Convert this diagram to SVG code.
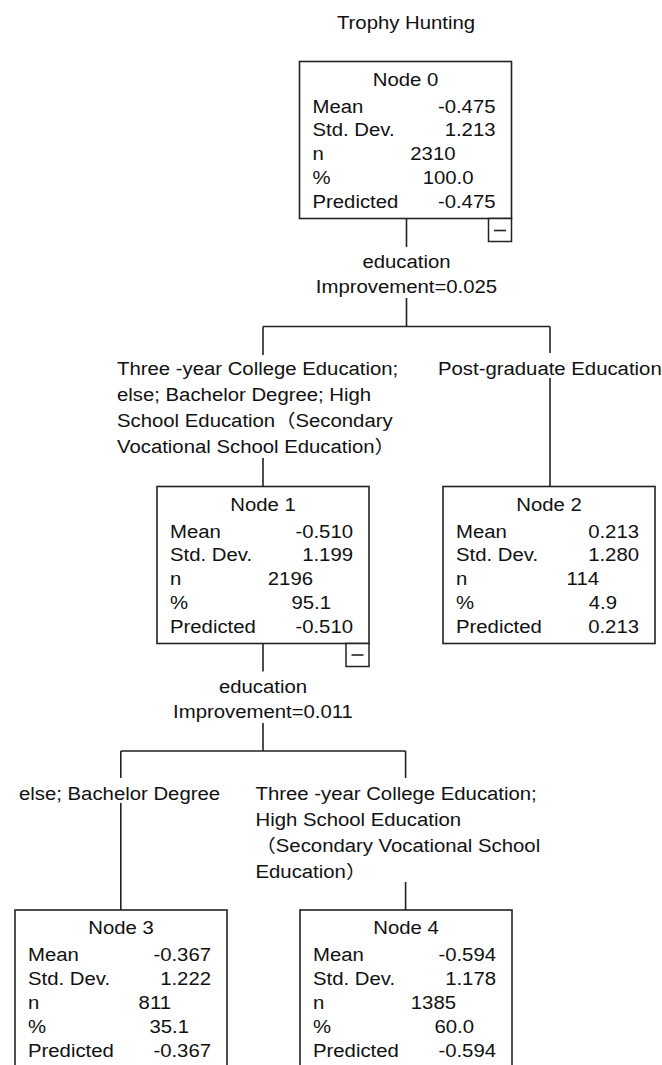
<svg xmlns="http://www.w3.org/2000/svg" width="662" height="1065" viewBox="0 0 662 1065">
<style>
text{font-family:"Liberation Sans","Noto Sans CJK SC",Arial,sans-serif;font-size:18px;fill:#111}
.m{text-anchor:middle}
.e{text-anchor:end}
.box{fill:#fff;stroke:#222;stroke-width:1.6}
.tog{fill:#fff;stroke:#222;stroke-width:1.5}
.ln{stroke:#222;stroke-width:1.6;fill:none}
</style>
<rect width="662" height="1065" fill="#fff"/>
<text id="title" class="m" transform="matrix(1.13 0 0 1 406 29)">Trophy Hunting</text>

<g id="connectors">
<path class="ln" d="M406.5 219V247M406.5 298V326.5M263 326.5H550M263 326.5V355M550 326.5V353M550 378V486.5M263 458V486.5"/>
<path class="ln" d="M263 643.5V671.5M263 723V751M120.8 751H405.6M120.8 751V778M405.6 751V778M120.8 803V910M405.6 882V910"/>
</g>

<g id="labels">
<text class="m" transform="matrix(1.13 0 0 1 406.5 268)">education</text>
<text class="m" transform="matrix(1.13 0 0 1 406.5 293)">Improvement=0.025</text>
<text transform="matrix(1.13 0 0 1 117 375)">Three -year College Education;</text>
<text transform="matrix(1.13 0 0 1 117 401)">else; Bachelor Degree; High</text>
<text transform="matrix(1.13 0 0 1 117 427)">School Education（Secondary</text>
<text transform="matrix(1.13 0 0 1 117 453)">Vocational School Education）</text>
<text transform="matrix(1.13 0 0 1 438 375)">Post-graduate Education</text>
<text class="m" transform="matrix(1.13 0 0 1 263 692.5)">education</text>
<text class="m" transform="matrix(1.13 0 0 1 263 717.5)">Improvement=0.011</text>
<text transform="matrix(1.13 0 0 1 19 800)">else; Bachelor Degree</text>
<text transform="matrix(1.13 0 0 1 255.5 800)">Three -year College Education;</text>
<text transform="matrix(1.13 0 0 1 255.5 826)">High School Education</text>
<text transform="matrix(1.13 0 0 1 255.5 852)">（Secondary Vocational School</text>
<text transform="matrix(1.13 0 0 1 255.5 878)">Education）</text>
</g>

<g id="node0">
<rect class="box" x="299.5" y="61.5" width="212" height="157"/>
<text class="m" transform="matrix(1.13 0 0 1 405.5 85.5)">Node 0</text>
<text transform="matrix(1.13 0 0 1 312.5 112.5)">Mean</text>
<text transform="matrix(1.13 0 0 1 312.5 136.4)">Std. Dev.</text>
<text transform="matrix(1.13 0 0 1 312.5 160.3)">n</text>
<text transform="matrix(1.13 0 0 1 312.5 184.2)">%</text>
<text transform="matrix(1.13 0 0 1 312.5 208.1)">Predicted</text>
<text class="e" transform="matrix(1.13 0 0 1 495.5 112.5)">-0.475</text>
<text class="e" transform="matrix(1.13 0 0 1 495.5 136.4)">1.213</text>
<text class="e" transform="matrix(1.13 0 0 1 455.5 160.3)">2310</text>
<text class="e" transform="matrix(1.13 0 0 1 473.5 184.2)">100.0</text>
<text class="e" transform="matrix(1.13 0 0 1 495.5 208.1)">-0.475</text>
<rect class="tog" x="488.5" y="218.5" width="23" height="23"/>
<path class="ln" d="M494 230.5H506"/>
</g>

<g id="node1">
<rect class="box" x="157" y="486.5" width="212" height="157"/>
<text class="m" transform="matrix(1.13 0 0 1 263 510.5)">Node 1</text>
<text transform="matrix(1.13 0 0 1 170 537.5)">Mean</text>
<text transform="matrix(1.13 0 0 1 170 561.4)">Std. Dev.</text>
<text transform="matrix(1.13 0 0 1 170 585.3)">n</text>
<text transform="matrix(1.13 0 0 1 170 609.2)">%</text>
<text transform="matrix(1.13 0 0 1 170 633.1)">Predicted</text>
<text class="e" transform="matrix(1.13 0 0 1 353 537.5)">-0.510</text>
<text class="e" transform="matrix(1.13 0 0 1 353 561.4)">1.199</text>
<text class="e" transform="matrix(1.13 0 0 1 313 585.3)">2196</text>
<text class="e" transform="matrix(1.13 0 0 1 331 609.2)">95.1</text>
<text class="e" transform="matrix(1.13 0 0 1 353 633.1)">-0.510</text>
<rect class="tog" x="346" y="643.5" width="23" height="23"/>
<path class="ln" d="M351.5 655H363.5"/>
</g>

<g id="node2">
<rect class="box" x="443" y="486.5" width="212" height="157"/>
<text class="m" transform="matrix(1.13 0 0 1 549 510.5)">Node 2</text>
<text transform="matrix(1.13 0 0 1 456 537.5)">Mean</text>
<text transform="matrix(1.13 0 0 1 456 561.4)">Std. Dev.</text>
<text transform="matrix(1.13 0 0 1 456 585.3)">n</text>
<text transform="matrix(1.13 0 0 1 456 609.2)">%</text>
<text transform="matrix(1.13 0 0 1 456 633.1)">Predicted</text>
<text class="e" transform="matrix(1.13 0 0 1 639 537.5)">0.213</text>
<text class="e" transform="matrix(1.13 0 0 1 639 561.4)">1.280</text>
<text class="e" transform="matrix(1.13 0 0 1 599 585.3)">114</text>
<text class="e" transform="matrix(1.13 0 0 1 617 609.2)">4.9</text>
<text class="e" transform="matrix(1.13 0 0 1 639 633.1)">0.213</text>
</g>

<g id="node3">
<rect class="box" x="15" y="910" width="212" height="157"/>
<text class="m" transform="matrix(1.13 0 0 1 121 934)">Node 3</text>
<text transform="matrix(1.13 0 0 1 28 961)">Mean</text>
<text transform="matrix(1.13 0 0 1 28 984.9)">Std. Dev.</text>
<text transform="matrix(1.13 0 0 1 28 1008.8)">n</text>
<text transform="matrix(1.13 0 0 1 28 1032.7)">%</text>
<text transform="matrix(1.13 0 0 1 28 1056.6)">Predicted</text>
<text class="e" transform="matrix(1.13 0 0 1 211 961)">-0.367</text>
<text class="e" transform="matrix(1.13 0 0 1 211 984.9)">1.222</text>
<text class="e" transform="matrix(1.13 0 0 1 171 1008.8)">811</text>
<text class="e" transform="matrix(1.13 0 0 1 189 1032.7)">35.1</text>
<text class="e" transform="matrix(1.13 0 0 1 211 1056.6)">-0.367</text>
</g>

<g id="node4">
<rect class="box" x="300" y="910" width="212" height="157"/>
<text class="m" transform="matrix(1.13 0 0 1 406 934)">Node 4</text>
<text transform="matrix(1.13 0 0 1 313 961)">Mean</text>
<text transform="matrix(1.13 0 0 1 313 984.9)">Std. Dev.</text>
<text transform="matrix(1.13 0 0 1 313 1008.8)">n</text>
<text transform="matrix(1.13 0 0 1 313 1032.7)">%</text>
<text transform="matrix(1.13 0 0 1 313 1056.6)">Predicted</text>
<text class="e" transform="matrix(1.13 0 0 1 496 961)">-0.594</text>
<text class="e" transform="matrix(1.13 0 0 1 496 984.9)">1.178</text>
<text class="e" transform="matrix(1.13 0 0 1 456 1008.8)">1385</text>
<text class="e" transform="matrix(1.13 0 0 1 474 1032.7)">60.0</text>
<text class="e" transform="matrix(1.13 0 0 1 496 1056.6)">-0.594</text>
</g>
</svg>
